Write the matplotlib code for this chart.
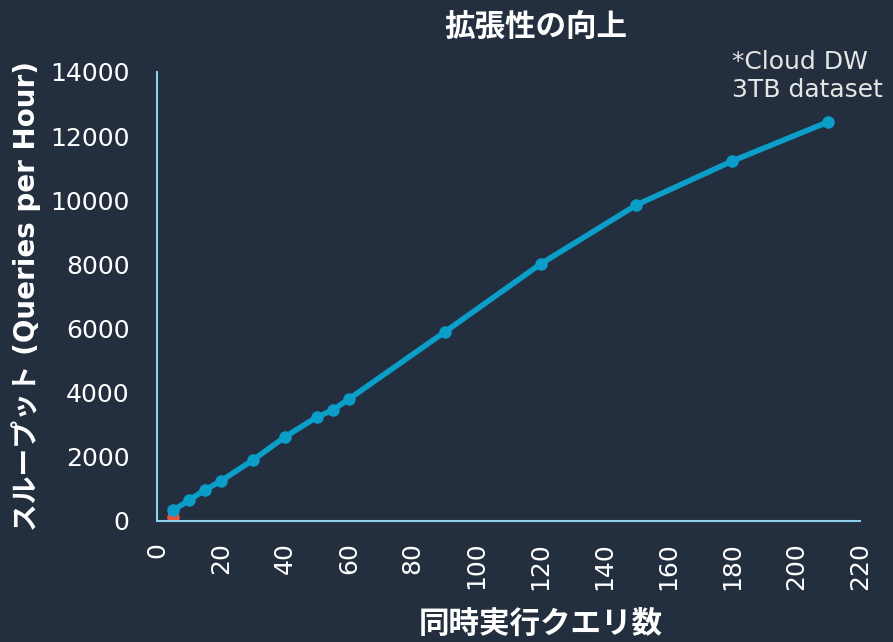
import matplotlib
matplotlib.use("Agg")
import matplotlib.pyplot as plt

# データ (同時実行クエリ数 vs スループット)
concurrency = [5, 10, 15, 20, 30, 40, 50, 55, 60, 90, 120, 150, 180, 210]
throughput = [330, 650, 970, 1250, 1900, 2620, 3240, 3460, 3800, 5890, 8010, 9850, 11220, 12440]
single_x = [5]
single_y = [130]
x_ticks = list(range(0, 221, 20))
y_ticks = list(range(0, 14001, 2000))

plt.rcParams['font.family'] = ['DejaVu Sans', 'Noto Sans CJK JP']

bg = '#232f3e'
line_col = '#0a9ec9'
axis_col = '#8fd0f0'

fig = plt.figure(figsize=(8.93, 6.42), dpi=100, facecolor=bg)
ax = fig.add_axes([0.176, 0.1885, 0.787, 0.6995])
ax.set_facecolor(bg)

ax.plot(single_x, single_y, 'o', color='#e8533f', markersize=8, zorder=2)
ax.plot(concurrency, throughput, '-o', color=line_col, linewidth=4, markersize=8, zorder=3)

ax.set_xlim(0, 220)
ax.set_ylim(0, 14000)
ax.set_xticks(x_ticks)
ax.set_yticks(y_ticks)
ax.tick_params(axis='x', length=0, labelsize=18, colors='white', rotation=90, pad=15)
ax.tick_params(axis='y', length=0, labelsize=18, colors='white', pad=20)

for s in ['top', 'right']:
    ax.spines[s].set_visible(False)
for s in ['left', 'bottom']:
    ax.spines[s].set_color(axis_col)
    ax.spines[s].set_linewidth(1.5)

ax.set_xlabel('同時実行クエリ数', fontsize=22, fontweight='bold', color='white')
ax.xaxis.set_label_coords(0.546, -0.198)
ax.set_ylabel('スループット (Queries per Hour)', fontsize=20, fontweight='bold', color='white')
ax.yaxis.set_label_coords(-0.165, 0.5)
fig.text(0.6, 0.957, '拡張性の向上', fontsize=22, fontweight='bold', color='white',
         ha='center', va='center')
fig.text(0.82, 0.882, '*Cloud DW\n3TB dataset', fontsize=18, color='#e6e6e6',
         ha='left', va='center', linespacing=1.2)

fig.savefig('out.png', dpi=100, facecolor=bg)
